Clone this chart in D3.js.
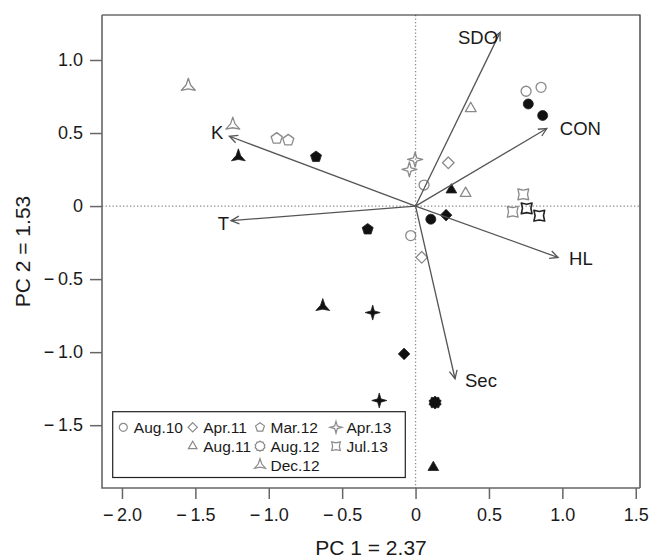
<!DOCTYPE html>
<html>
<head>
<meta charset="utf-8">
<script src="https://cdn.jsdelivr.net/npm/d3@7"></script>
<style>
  body { margin: 0; background: #fff; }
  svg text { font-family: "Liberation Sans", Arial, Helvetica, sans-serif; fill: #1a1a1a; }
</style>
</head>
<body>
<svg id="chart" width="649" height="559"></svg>
<script>
// ---------- data ----------
const groups = ["Aug.10", "Apr.11", "Mar.12", "Apr.13", "Aug.11", "Aug.12", "Jul.13", "Dec.12"];
const groupShape = ["circle", "diamond", "pentagon", "star4", "triangle", "gear", "concaveSquare", "star3"];

// sample scores (PC1, PC2), their group and style: open = grey outline, filled = black, dark = dark outline
const pointGroup = ["Aug.10","Aug.10","Aug.10","Aug.10",
                    "Aug.10","Aug.10","Aug.10",
                    "Apr.11","Apr.11","Apr.11","Apr.11",
                    "Mar.12","Mar.12","Mar.12","Mar.12",
                    "Apr.13","Apr.13","Apr.13","Apr.13",
                    "Aug.11","Aug.11","Aug.11","Aug.11",
                    "Aug.12",
                    "Dec.12","Dec.12","Dec.12","Dec.12",
                    "Jul.13","Jul.13","Jul.13","Jul.13"];
const pointStyle = ["open","open","open","open",
                    "filled","filled","filled",
                    "open","open","filled","filled",
                    "open","open","filled","filled",
                    "open","open","filled","filled",
                    "open","open","filled","filled",
                    "filled",
                    "open","open","filled","filled",
                    "open","open","dark","dark"];
const pc1 = [0.753, 0.855, 0.058, -0.033,
             0.768, 0.866, 0.104,
             0.223, 0.042, 0.208, -0.078,
             -0.946, -0.867, -0.678, -0.326,
             -0.042, -0.003, -0.292, -0.247,
             0.376, 0.341, 0.244, 0.121,
             0.133,
             -1.548, -1.245, -1.207, -0.632,
             0.734, 0.662, 0.757, 0.843];
const pc2 = [0.786, 0.813, 0.144, -0.202,
             0.699, 0.620, -0.090,
             0.296, -0.351, -0.062, -1.012,
             0.463, 0.451, 0.337, -0.159,
             0.251, 0.319, -0.729, -1.331,
             0.668, 0.087, 0.111, -1.789,
             -1.345,
             0.820, 0.554, 0.337, -0.688,
             0.080, -0.039, -0.016, -0.066];

// variable loadings
const varNames = ["SDO", "CON", "HL", "Sec", "T", "K"];
const loadPC1 = [0.576, 0.894, 0.971, 0.269, -1.257, -1.268];
const loadPC2 = [1.189, 0.531, -0.352, -1.182, -0.100, 0.478];

const xTicks = [-2.0, -1.5, -1.0, -0.5, 0, 0.5, 1.0, 1.5];
const yTicks = [-1.5, -1.0, -0.5, 0, 0.5, 1.0];
const xTitle = "PC 1 = 2.37";
const yTitle = "PC 2 = 1.53";

// legend columns (R fills column-wise)
const legendColumns = [["Aug.10"], ["Apr.11", "Aug.11"], ["Mar.12", "Aug.12", "Dec.12"], ["Apr.13", "Jul.13"]];

// ---------- layout ----------
const W = 649, H = 559;
const M = { left: 102, right: 9, top: 15, bottom: 71 };
const svg = d3.select("#chart");
const x = d3.scaleLinear().domain([-2.136, 1.529]).range([M.left, W - M.right]);
const y = d3.scaleLinear().domain([-1.930, 1.308]).range([H - M.bottom, M.top]);

const fmt = d => d === 0 ? "0" : (d < 0 ? "\u2212\u2009" : "") + Math.abs(d).toFixed(1);
const TICK_FS = 18, LABEL_FS = 18.5, TITLE_FS = 21, LEG_FS = 15.5;

// ---------- shapes ----------
function polygon(n, R, rot) {
  const p = d3.path();
  for (let i = 0; i < n; i++) {
    const a = rot - Math.PI / 2 + i * 2 * Math.PI / n;
    const px = R * Math.cos(a), py = R * Math.sin(a);
    if (i === 0) p.moveTo(px, py); else p.lineTo(px, py);
  }
  p.closePath();
  return p.toString();
}
function star(n, R, r, rot) {
  const p = d3.path();
  for (let i = 0; i < 2 * n; i++) {
    const a = rot - Math.PI / 2 + i * Math.PI / n;
    const rr = i % 2 === 0 ? R : r;
    const px = rr * Math.cos(a), py = rr * Math.sin(a);
    if (i === 0) p.moveTo(px, py); else p.lineTo(px, py);
  }
  p.closePath();
  return p.toString();
}
function shapePath(shape, s) {
  switch (shape) {
    case "circle": return d3.symbol(d3.symbolCircle, Math.PI * (5 * s) * (5 * s))();
    case "diamond": return polygon(4, 5.8 * s, 0);
    case "pentagon": return polygon(5, 5.8 * s, 0);
    case "triangle": return polygon(3, 6.2 * s, 0);
    case "star4": return star(4, 7.5 * s, 2.3 * s, 0);
    case "gear": return star(10, 6.4 * s, 5.3 * s, 0);
    case "concaveSquare": return star(4, 7.6 * s, 4.2 * s, Math.PI / 4);
    case "star3": return star(3, 8 * s, 2.6 * s, 0);
  }
}
const shapeOf = g => groupShape[groups.indexOf(g)];

// ---------- reference lines ----------
svg.append("line").attr("x1", x(0)).attr("x2", x(0)).attr("y1", M.top).attr("y2", H - M.bottom)
  .attr("stroke", "#888").attr("stroke-width", 1.3).attr("stroke-dasharray", "1.3,2.2");
svg.append("line").attr("y1", y(0)).attr("y2", y(0)).attr("x1", M.left).attr("x2", W - M.right)
  .attr("stroke", "#888").attr("stroke-width", 1.3).attr("stroke-dasharray", "1.3,2.2");

// ---------- points ----------
const pts = pc1.map((v, i) => ({ x: v, y: pc2[i], g: pointGroup[i], st: pointStyle[i] }));
svg.append("g").selectAll("path").data(pts).join("path")
  .attr("transform", d => `translate(${x(d.x)},${y(d.y)})`)
  .attr("d", d => shapePath(shapeOf(d.g), 1))
  .attr("fill", d => d.st === "filled" ? "#111" : "none")
  .attr("stroke", d => d.st === "open" ? "#8a8a8a" : "#222")
  .attr("stroke-width", d => d.st === "filled" ? 0.8 : (d.st === "dark" ? 1.6 : 1.3))
  .attr("stroke-linejoin", "round");

// ---------- loading arrows ----------
const arrows = svg.append("g");
varNames.forEach((nm, i) => {
  const x0 = x(0), y0 = y(0), x1 = x(loadPC1[i]), y1 = y(loadPC2[i]);
  const ang = Math.atan2(y1 - y0, x1 - x0);
  const L = 9, A = Math.PI / 7;
  arrows.append("line").attr("x1", x0).attr("y1", y0).attr("x2", x1).attr("y2", y1)
    .attr("stroke", "#555").attr("stroke-width", 1.3);
  const p = d3.path();
  p.moveTo(x1 - L * Math.cos(ang - A), y1 - L * Math.sin(ang - A));
  p.lineTo(x1, y1);
  p.lineTo(x1 - L * Math.cos(ang + A), y1 - L * Math.sin(ang + A));
  arrows.append("path").attr("d", p.toString()).attr("fill", "none")
    .attr("stroke", "#555").attr("stroke-width", 1.3);
});
// label placement relative to arrow tips
const labelOffset = {
  SDO: { dx: -2, dy: 12, anchor: "end" },
  CON: { dx: 13, dy: 6, anchor: "start" },
  HL:  { dx: 11, dy: 8, anchor: "start" },
  Sec: { dx: 10, dy: 8, anchor: "start" },
  T:   { dx: -2, dy: 9, anchor: "end" },
  K:   { dx: -6, dy: 3, anchor: "end" }
};
varNames.forEach((nm, i) => {
  const o = labelOffset[nm];
  arrows.append("text").attr("x", x(loadPC1[i]) + o.dx).attr("y", y(loadPC2[i]) + o.dy)
    .attr("text-anchor", o.anchor).attr("font-size", LABEL_FS).text(nm);
});

// ---------- axes ----------
const gx = svg.append("g").attr("transform", `translate(0,${H - M.bottom})`)
  .call(d3.axisBottom(x).tickValues(xTicks).tickSize(11).tickPadding(9).tickFormat(fmt));
const gy = svg.append("g").attr("transform", `translate(${M.left},0)`)
  .call(d3.axisLeft(y).tickValues(yTicks).tickSize(12).tickPadding(7).tickFormat(fmt));
[gx, gy].forEach(g => {
  g.select(".domain").remove();
  g.selectAll(".tick line").attr("stroke", "#666").attr("stroke-width", 1.5);
  g.selectAll(".tick text").attr("font-size", TICK_FS).attr("fill", "#1a1a1a")
    .attr("font-family", '"Liberation Sans", Arial, sans-serif');
});
// box
svg.append("path")
  .attr("d", `M${M.left},${M.top}H${W - M.right}V${H - M.bottom}`)
  .attr("fill", "none").attr("stroke", "#222").attr("stroke-width", 1.2);
svg.append("path")
  .attr("d", `M${M.left},${M.top}V${H - M.bottom}H${W - M.right}`)
  .attr("fill", "none").attr("stroke", "#666").attr("stroke-width", 1.6);

// titles
svg.append("text").attr("x", (M.left + W - M.right) / 2).attr("y", 555)
  .attr("text-anchor", "middle").attr("font-size", TITLE_FS).text(xTitle);
svg.append("text").attr("transform", `translate(30,${(M.top + H - M.bottom) / 2}) rotate(-90)`)
  .attr("text-anchor", "middle").attr("font-size", TITLE_FS).text(yTitle);

// ---------- legend ----------
const lg = svg.append("g");
const lgLeft = 112.7, lgTop = 411.7, lgW = 292.6, lgH = 65.8;
lg.append("rect").attr("x", lgLeft).attr("y", lgTop).attr("width", lgW).attr("height", lgH)
  .attr("fill", "#fff").attr("stroke", "#222").attr("stroke-width", 1.2);
const colSymX = [123.3, 192.7, 260, 336];
const rowY0 = 427.3, rowStep = 18.9;
legendColumns.forEach((col, ci) => {
  col.forEach((g, ri) => {
    const cy = rowY0 + ri * rowStep;
    lg.append("path").attr("transform", `translate(${colSymX[ci]},${cy})`)
      .attr("d", shapePath(shapeOf(g), 0.8))
      .attr("fill", "none").attr("stroke", "#8a8a8a").attr("stroke-width", 1.2);
    lg.append("text").attr("x", colSymX[ci] + 10.5).attr("y", cy + 5.5)
      .attr("font-size", LEG_FS).text(g);
  });
});
</script>
</body>
</html>
